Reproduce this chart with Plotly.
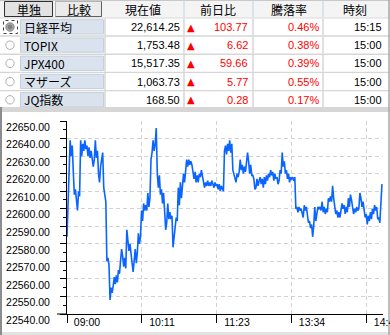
import plotly.graph_objects as go

# ---------------- data ----------------
names = ["日経平均", "TOPIX", "JPX400", "マザーズ", "JQ指数"]
current = ["22,614.25", "1,753.48", "15,517.35", "1,063.73", "168.50"]
change = ["103.77", "6.62", "59.66", "5.77", "0.28"]
pct = ["0.46%", "0.38%", "0.39%", "0.55%", "0.17%"]
times = ["15:15", "15:00", "15:00", "15:00", "15:00"]
headers = ["現在値", "前日比", "騰落率", "時刻"]
buttons = ["単独", "比較"]

# Nikkei 225 intraday, one value per trading minute (09:00-11:30, 12:30-15:00)
nikkei = [
    22584, 22600, 22617, 22639, 22630, 22636, 22621, 22608, 22611, 22603,
    22599, 22610, 22607, 22639, 22630, 22637, 22633, 22639, 22634, 22636,
    22630, 22635, 22629, 22633, 22627, 22624, 22628, 22639, 22629, 22633,
    22620, 22615, 22624, 22628, 22632, 22612, 22606, 22604, 22570, 22572,
    22568, 22548, 22555, 22552, 22556, 22561, 22557, 22562, 22558, 22565,
    22563, 22571, 22577, 22573, 22567, 22572, 22566, 22588, 22582, 22576,
    22580, 22572, 22569, 22564, 22571, 22577, 22569, 22575, 22586, 22580,
    22584, 22599, 22593, 22603, 22599, 22602, 22599, 22609, 22601, 22606,
    22628, 22632, 22639, 22633, 22637, 22646, 22620, 22612, 22619, 22608,
    22611, 22603, 22609, 22601, 22588, 22592, 22603, 22594, 22598, 22594,
    22596, 22578, 22583, 22590, 22595, 22593, 22612, 22602, 22615, 22606,
    22612, 22620, 22615, 22621, 22628, 22624, 22628, 22625, 22627, 22625,
    22622, 22617, 22621, 22615, 22619, 22615, 22620, 22618, 22622, 22618,
    22616, 22612, 22615, 22613, 22616, 22613, 22615, 22613, 22616, 22614,
    22612, 22615, 22613, 22614, 22611, 22614, 22610, 22613, 22611, 22610,
    22633, 22636, 22631, 22637, 22633, 22639, 22632, 22637, 22622, 22620,
    22617, 22615, 22620, 22618, 22621, 22628, 22622, 22625, 22620, 22624,
    22621, 22626, 22632, 22627, 22620, 22625, 22619, 22619, 22617, 22611,
    22612, 22617, 22613, 22616, 22618, 22614, 22617, 22612, 22618, 22614,
    22619, 22616, 22620, 22618, 22622, 22619, 22621, 22616, 22620, 22617,
    22618, 22614, 22616, 22622, 22620, 22632, 22624, 22627, 22620, 22622,
    22617, 22620, 22615, 22618, 22617, 22618, 22616, 22618, 22600, 22601,
    22598, 22601, 22599, 22600, 22597, 22595, 22602, 22599, 22601, 22597,
    22592, 22593, 22589, 22591, 22584, 22590, 22601, 22593, 22598, 22601,
    22600, 22601, 22599, 22604, 22598, 22601, 22597, 22600, 22598, 22606,
    22604, 22607, 22604, 22613, 22606, 22601, 22597, 22599, 22595, 22598,
    22595, 22599, 22603, 22600, 22602, 22597, 22601, 22598, 22606, 22601,
    22608, 22605, 22601, 22597, 22600, 22598, 22601, 22599, 22600, 22609,
    22606, 22601, 22604, 22597, 22595, 22597, 22591, 22596, 22593, 22598,
    22594, 22600, 22597, 22602, 22599, 22601, 22594, 22595, 22592, 22603,
    22614,
]
minutes = list(range(len(nikkei)))
x_tickvals = [0, 71.43, 142.86, 214.29, 285.71]
x_ticktext = ["09:00", "10:11", "11:23", "13:34", "14:45"]

# ---------------- layout helpers ----------------
W, H = 390, 335
L, R, T, B = 67, 7, 121, 21
PW, PH = W - L - R, H - T - B

def px(x):
    return (x - L) / PW

def py(y):
    return (H - B - y) / PH

NUM = "Liberation Sans, Arial, sans-serif"
JP = "Noto Sans CJK JP, sans-serif"

shapes = []

def rect(x0, y0, x1, y1, fill, line=None, lw=1, dash=None):
    d = dict(type="rect", xref="paper", yref="paper", layer="below",
             x0=px(x0), x1=px(x1), y0=py(y1), y1=py(y0), fillcolor=fill,
             line=dict(width=lw if line else 0, color=line or fill))
    if dash:
        d["line"]["dash"] = dash
    shapes.append(d)

def hline(x0, x1, y, color, lw=1, layer="below"):
    shapes.append(dict(type="line", xref="paper", yref="paper", layer=layer,
                       x0=px(x0), x1=px(x1), y0=py(y), y1=py(y),
                       line=dict(color=color, width=lw)))

def vline(x, y0, y1, color, lw=1, layer="below"):
    shapes.append(dict(type="line", xref="paper", yref="paper", layer=layer,
                       x0=px(x), x1=px(x), y0=py(y0), y1=py(y1),
                       line=dict(color=color, width=lw)))

def circle(cx, cy, r, fill, line, lw=1):
    shapes.append(dict(type="circle", xref="paper", yref="paper", layer="below",
                       x0=px(cx - r), x1=px(cx + r), y0=py(cy + r), y1=py(cy - r),
                       fillcolor=fill, line=dict(color=line, width=lw)))

annotations = []

def txt(x, y, s, anchor, color="#000000", font=NUM, size=11):
    annotations.append(dict(xref="paper", yref="paper", x=px(x), y=py(y), text=s,
                            showarrow=False, xanchor=anchor, yanchor="middle",
                            font=dict(family=font, size=size, color=color)))

# ---------------- table ----------------
rect(0, 0, W, H, "#ffffff")
# header
rect(0, 0, W, 17.5, "#f4f4f4")
hline(0, W, 0.5, "#c8c8c8")
for xs in [184, 253, 323]:
    vline(xs, 0, 17.5, "#c4d0dc")
# buttons
rect(4.5, 1.5, 52.5, 16.5, "#e2e2e2", "#303030", 1)
rect(55.5, 1.5, 101.5, 16.5, "#ebebeb", "#b4b4b4", 1)
hline(55.5, 101.5, 16.5, "#606060")
vline(101.5, 1.5, 16.5, "#606060")
txt(28.5, 9.5, buttons[0], "center", font=JP, size=12)
txt(78.5, 9.5, buttons[1], "center", font=JP, size=12)
for hx, h in zip([143, 218, 289, 355], headers):
    txt(hx, 9.5, h, "center", font=JP, size=12)

# rows
rect(0, 17.5, W, 112, "#d6d6d6")
pitch = 18.2
for i in range(len(names)):
    top = 18.5 + pitch * i
    yc = top + 8.5
    rect(0, top, W, top + 16.8, "#ffffff")
    for xs in [105, 184, 253, 323]:
        vline(xs, top, top + 16.8, "#d6d6d6", 1.5)
    rect(20.5, top + 1.2, 103.5, top + 15.5, "#dae3ed", "#c3cfdb", 1)
    if i == 0:
        circle(10, yc, 4.2, "#a8a8a8", "#8a8a8a")
        circle(10, yc, 2.0, "#808080", "#808080")
        rect(3.5, top + 2, 17.5, top + 15, "rgba(0,0,0,0)", "#404040", 1, "dot")
    else:
        circle(10, yc, 4.2, "#ffffff", "#b0b0b0")
    txt(21.5, yc, names[i], "left", font=JP, size=12)
    txt(182, yc, current[i], "right")
    txt(191, yc, "▲", "center", color="#ff0000", font="DejaVu Sans", size=10)
    txt(250, yc, change[i], "right", color="#ff0000")
    txt(321, yc, pct[i], "right", color="#ff0000")
    txt(384, yc, times[i], "right")

# chart panel frame
rect(0, 107, W, 112, "#d6d6d6")
rect(0, 332, W, H, "#e2e2e2")
vline(1, 107, H, "#8c8c8c", 2)
vline(389, 0, H, "#a8a8a8", 1.5)
hline(57, 67, 314, "#000000", 1, layer="above")

# ---------------- figure ----------------
fig = go.Figure()
fig.add_trace(go.Scatter(x=minutes, y=nikkei, mode="lines",
                         line=dict(color="#0a64ff", width=1.6),
                         hoverinfo="skip", showlegend=False))

grid = dict(showgrid=True, gridcolor="#d2d2d2", gridwidth=1, griddash="4px,3px")

fig.update_layout(
    width=W, height=H,
    margin=dict(l=L, r=R, t=T, b=B, pad=0, autoexpand=False),
    paper_bgcolor="#ffffff",
    plot_bgcolor="rgba(0,0,0,0)",
    shapes=shapes,
    annotations=annotations,
    xaxis=dict(range=[0, 301], tickmode="array", tickvals=x_tickvals,
               ticktext=x_ticktext, ticks="outside", ticklen=8,
               tickcolor="#000000", tickwidth=1, showline=True,
               linecolor="#000000", linewidth=1, zeroline=False,
               automargin=False,
               ticklabelshift=20, ticklabelstandoff=-10,
               ticklabeloverflow="allow",
               tickfont=dict(family=NUM, size=10.5, color="#000000"), **grid),
    yaxis=dict(range=[22540, 22650], tick0=22540, dtick=10, tickformat=".2f",
               ticks="outside", ticklen=6, tickcolor="#000000", tickwidth=1,
               showline=True, linecolor="#000000", linewidth=1,
               zeroline=False, automargin=False,
               ticklabelshift=6, ticklabelstandoff=8,
               minor=dict(dtick=5, ticks="outside", ticklen=3,
                          tickcolor="#000000", showgrid=False),
               tickfont=dict(family=NUM, size=10.5, color="#000000"), **grid),
)

fig.write_html("out.html")
